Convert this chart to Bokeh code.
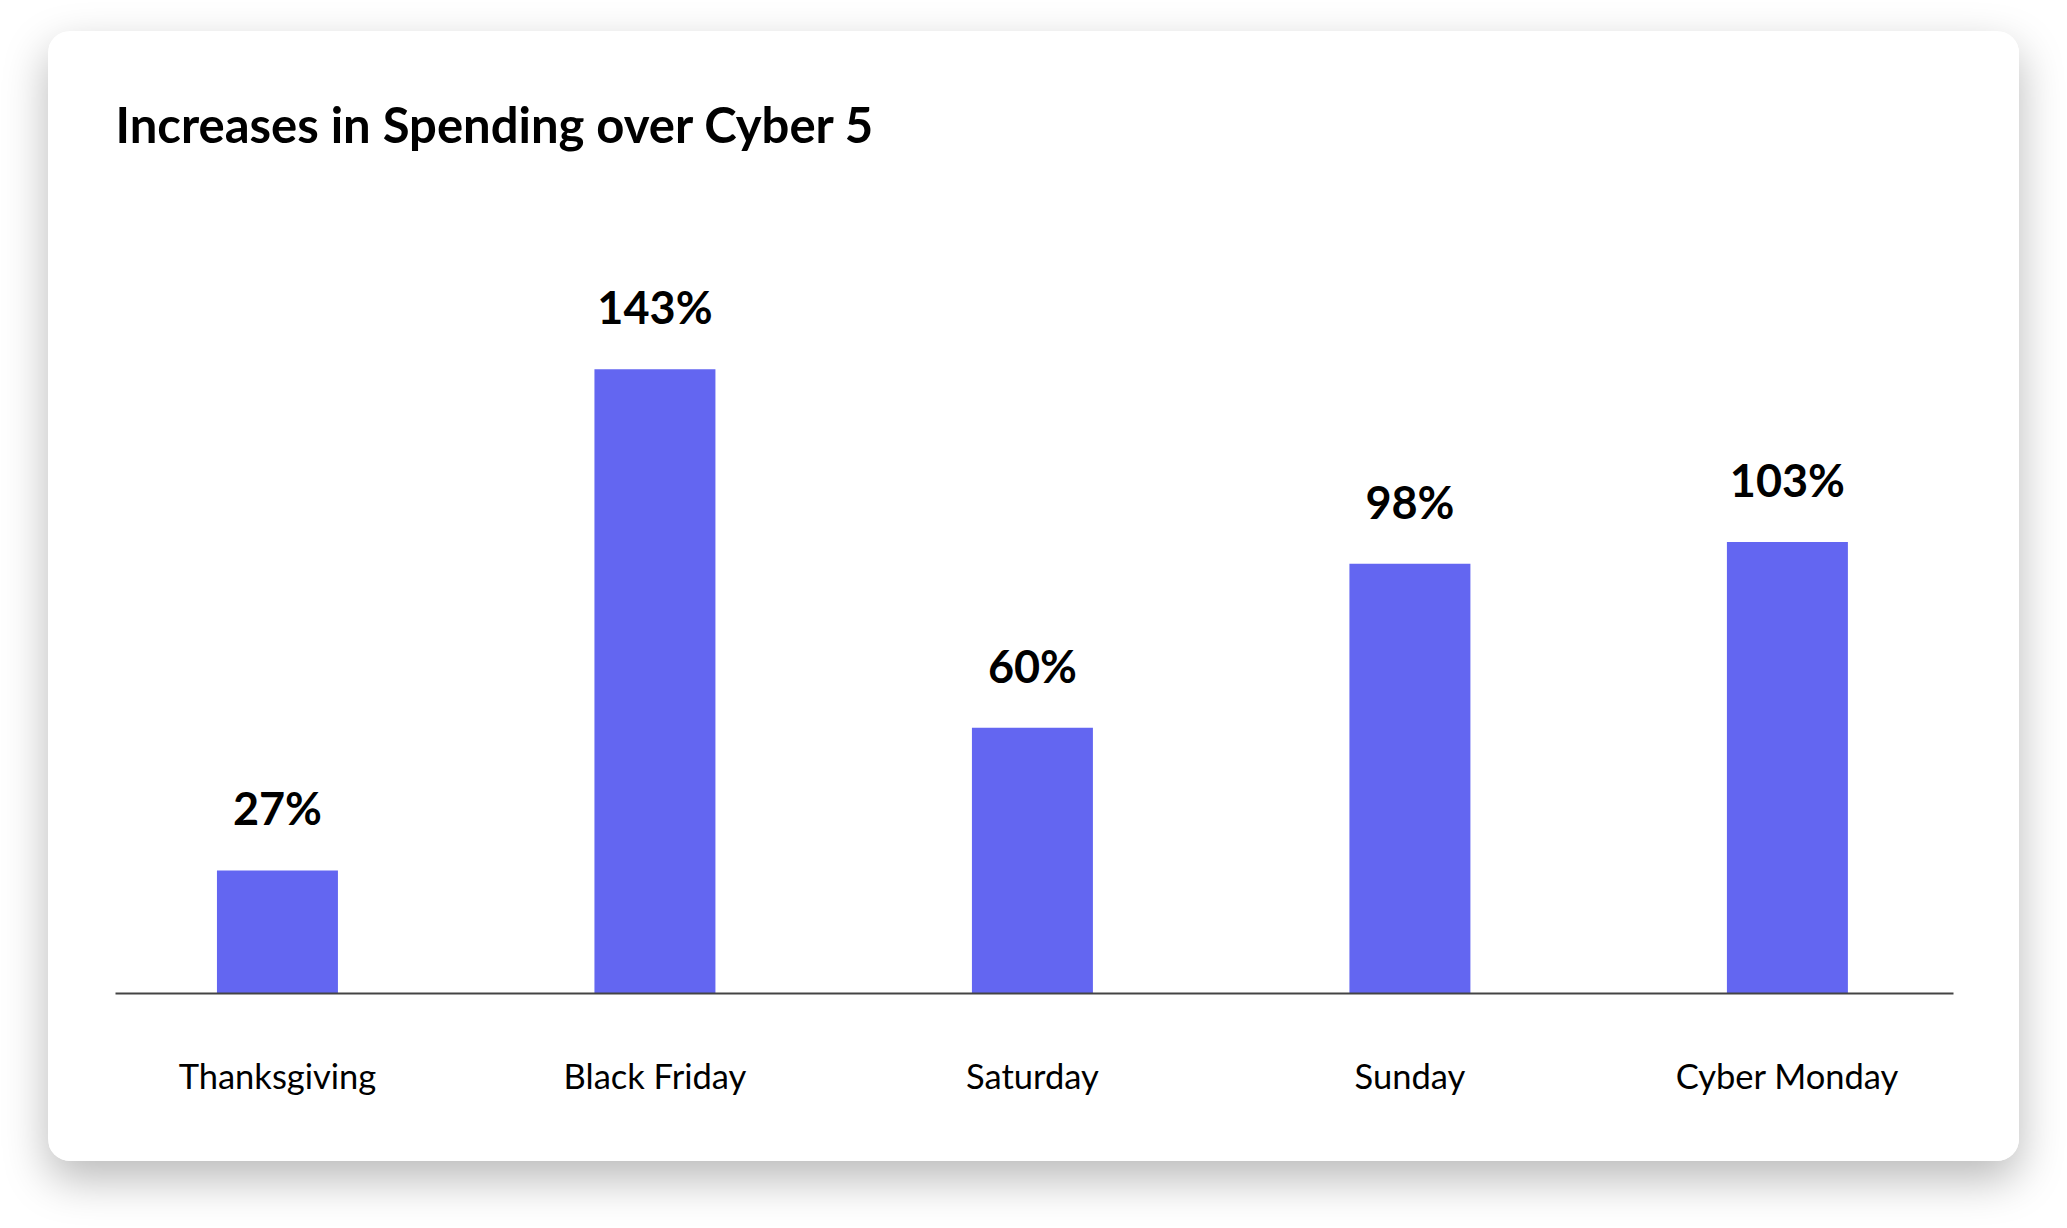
from bokeh.plotting import figure
from bokeh.models import ColumnDataSource, FixedTicker, Label, Range1d
from bokeh.embed import file_html
from bokeh.resources import INLINE
from bokeh.core.properties import value

# ---- data ----
categories = ["Thanksgiving", "Black Friday", "Saturday", "Sunday", "Cyber Monday"]
increases = [27, 143, 60, 98, 103]
value_labels = ["27%", "143%", "60%", "98%", "103%"]
title_text = "Increases in Spending over Cyber 5"

x_pos = list(range(len(categories)))

# ---- layout ----
W, H = 1971, 1130
BORDER_L, BORDER_R, BORDER_T, BORDER_B = 67, 66, 0, 168
X_START, X_END = -0.429, 4.440
Y_START, Y_END = -1.5, 221.2
px_per_unit_y = (H - BORDER_T - BORDER_B) / (Y_END - Y_START)

source = ColumnDataSource(dict(x=x_pos, top=increases, label=value_labels,
                               bottom=[Y_START] * len(x_pos)))

FONT = "Lato"
BAR_COLOR = "#6366F1"

p = figure(
    width=W, height=H,
    x_range=Range1d(X_START, X_END), y_range=Range1d(Y_START, Y_END),
    output_backend="svg", toolbar_location=None, title=None,
    y_axis_location=None,
    min_border_left=BORDER_L, min_border_right=BORDER_R,
    min_border_top=BORDER_T, min_border_bottom=BORDER_B,
)
p.margin = (31, 0, 0, 48)
p.styles = {
    "box-shadow": "0 18px 45px rgba(0,0,0,0.28)",
    "border-radius": "22px",
    "overflow": "hidden",
}
p.background_fill_color = "white"
p.border_fill_color = "white"
p.outline_line_color = None
p.grid.visible = False

p.vbar(x="x", top="top", bottom="bottom", width=0.3205, source=source,
       fill_color=BAR_COLOR, line_color=None)

p.text(x="x", y="top", text="label", source=source,
       text_align="center", text_baseline="alphabetic", y_offset=-62,
       text_font=value(FONT), text_font_style="bold",
       text_font_size="45px", text_color="#000000")

ax = p.xaxis[0]
ax.ticker = FixedTicker(ticks=x_pos)
ax.major_label_overrides = {i: c for i, c in zip(x_pos, categories)}
ax.major_tick_out = 0
ax.major_tick_in = 0
ax.minor_tick_out = 0
ax.minor_tick_in = 0
ax.axis_line_color = "#444444"
ax.axis_line_width = 2
ax.major_label_standoff = 61
ax.major_label_text_font = FONT
ax.major_label_text_font_size = "34.5px"
ax.major_label_text_color = "#000000"

title = Label(
    x=X_START, y=Y_END - 92 / px_per_unit_y,
    text=title_text, text_font=FONT, text_font_style="bold",
    text_font_size="49px", text_color="#000000",
    text_baseline="alphabetic", text_align="left",
)
p.add_layout(title)

open("out.html", "w").write(file_html(p, INLINE))
